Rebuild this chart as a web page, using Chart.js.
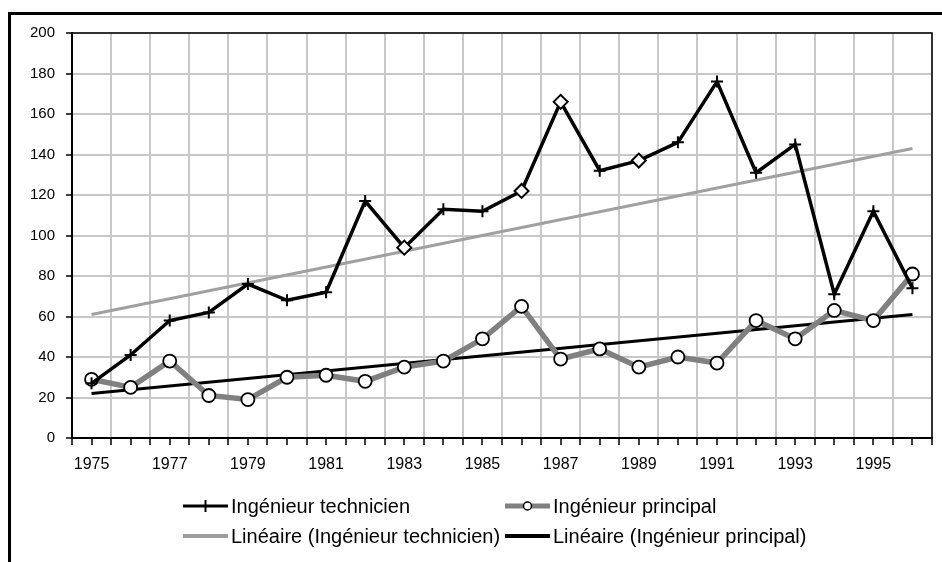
<!DOCTYPE html>
<html>
<head>
<meta charset="utf-8">
<script src="https://cdn.jsdelivr.net/npm/chart.js@4/dist/chart.umd.min.js"></script>
<style>
  html, body { margin: 0; padding: 0; background: #fff; overflow: hidden; }
  #frame { position: absolute; left: 8px; top: 12px; width: 1000px; height: 600px; border: 3px solid #000; }
  #chart { position: absolute; left: 0; top: 0; }
</style>
</head>
<body>
<div id="frame"></div>
<canvas id="chart" width="942" height="562"></canvas>
<script>
const years = [1975, 1976, 1977, 1978, 1979, 1980, 1981, 1982, 1983, 1984, 1985,
               1986, 1987, 1988, 1989, 1990, 1991, 1992, 1993, 1994, 1995, 1996];
const technicien = [27, 41, 58, 62, 76, 68, 72, 117, 94, 113, 112,
                    122, 166, 132, 137, 146, 176, 131, 145, 71, 112, 74];
const principal = [29, 25, 38, 21, 19, 30, 31, 28, 35, 38, 49,
                   65, 39, 44, 35, 40, 37, 58, 49, 63, 58, 81];
// trend lines, end points
const trendYears = [1975, 1996];
const trendTechnicien = [61, 143];
const trendPrincipal = [22, 61];
const yTicks = [0, 20, 40, 60, 80, 100, 120, 140, 160, 180, 200];

const diamondYears = [1983, 1986, 1987, 1989];
const FONT = '"Liberation Sans", Arial, sans-serif';

const pts = (xs, ys) => xs.map((x, i) => ({ x: x, y: ys[i] }));

// legend drawn by hand so the two columns line up like in Excel
const legendPlugin = {
  id: 'xlLegend',
  afterDraw(chart) {
    const c = chart.ctx;
    const items = [
      { text: 'Ingénieur technicien', x: 183, y: 506, color: '#000', w: 3, marker: 'cross' },
      { text: 'Ingénieur principal', x: 505, y: 506, color: '#808080', w: 5, marker: 'circle' },
      { text: 'Linéaire (Ingénieur technicien)', x: 183, y: 536, color: '#a0a0a0', w: 4 },
      { text: 'Linéaire (Ingénieur principal)', x: 505, y: 536, color: '#000', w: 4 }
    ];
    c.save();
    c.font = '20px ' + FONT;
    c.textBaseline = 'middle';
    c.fillStyle = '#000';
    items.forEach(it => {
      c.strokeStyle = it.color;
      c.lineWidth = it.w;
      c.beginPath();
      c.moveTo(it.x, it.y);
      c.lineTo(it.x + 45, it.y);
      c.stroke();
      const mx = it.x + 22.5;
      if (it.marker === 'cross') {
        c.lineWidth = 2;
        c.strokeStyle = '#000';
        c.beginPath();
        c.moveTo(mx, it.y - 6);
        c.lineTo(mx, it.y + 6);
        c.stroke();
      } else if (it.marker === 'circle') {
        c.beginPath();
        c.arc(mx, it.y, 4, 0, Math.PI * 2);
        c.fillStyle = '#fff';
        c.fill();
        c.lineWidth = 1.5;
        c.strokeStyle = '#000';
        c.stroke();
        c.fillStyle = '#000';
      }
      c.fillText(it.text, it.x + 48, it.y + 1);
    });
    c.restore();
  }
};

// top and right edges of the plot area
const framePlugin = {
  id: 'plotFrame',
  afterDatasetsDraw(chart) {
    const a = chart.chartArea;
    const c = chart.ctx;
    c.save();
    c.strokeStyle = '#000';
    c.lineWidth = 1.5;
    c.beginPath();
    c.moveTo(a.left, a.top);
    c.lineTo(a.right, a.top);
    c.lineTo(a.right, a.bottom);
    c.stroke();
    c.restore();
  }
};

new Chart(document.getElementById('chart').getContext('2d'), {
  type: 'line',
  data: {
    datasets: [
      {
        label: 'Ingénieur technicien',
        data: pts(years, technicien),
        borderColor: '#000',
        borderWidth: 3.5,
        pointStyle: years.map(y => diamondYears.includes(y) ? 'rectRot' : 'cross'),
        pointRadius: years.map(y => diamondYears.includes(y) ? 7 : 6),
        pointBorderWidth: 2,
        pointBorderColor: '#000',
        pointBackgroundColor: '#fff',
        tension: 0,
        order: 0
      },
      {
        label: 'Ingénieur principal',
        data: pts(years, principal),
        borderColor: '#808080',
        borderWidth: 5.5,
        pointStyle: 'circle',
        pointRadius: 6.5,
        pointBorderWidth: 1.8,
        pointBorderColor: '#000',
        pointBackgroundColor: '#fff',
        tension: 0,
        order: 1
      },
      {
        label: 'Linéaire (Ingénieur technicien)',
        data: pts(trendYears, trendTechnicien),
        borderColor: '#a0a0a0',
        borderWidth: 3,
        pointRadius: 0,
        order: 2
      },
      {
        label: 'Linéaire (Ingénieur principal)',
        data: pts(trendYears, trendPrincipal),
        borderColor: '#000',
        borderWidth: 3,
        pointRadius: 0,
        order: 3
      }
    ]
  },
  options: {
    responsive: false,
    animation: false,
    devicePixelRatio: 1,
    layout: { padding: { left: 0, top: 33, right: 7, bottom: 0 } },
    plugins: {
      legend: { display: false },
      tooltip: { enabled: false }
    },
    scales: {
      x: {
        type: 'linear',
        min: 1974.5,
        max: 1996.5,
        afterFit: s => { s.height = 124; },
        border: { color: '#000', width: 2 },
        grid: {
          color: ctx => (ctx.tick && Number.isInteger(ctx.tick.value)) ? 'rgba(0,0,0,0)' : '#c8c8c8',
          tickColor: '#000',
          lineWidth: 2,
          tickWidth: 1.5,
          tickLength: 7
        },
        ticks: {
          stepSize: 0.5,
          autoSkip: false,
          maxRotation: 0,
          padding: 10,
          color: '#000',
          font: { family: FONT, size: 16 },
          callback: v => (Number.isInteger(v) && v % 2 === 1) ? String(v) : ''
        }
      },
      y: {
        min: 0,
        max: 200,
        afterFit: s => { s.width = 72; },
        afterBuildTicks: s => { s.ticks = yTicks.map(v => ({ value: v })); },
        border: { color: '#000', width: 2 },
        grid: {
          color: '#c8c8c8',
          tickColor: '#000',
          lineWidth: 2,
          tickWidth: 1.5,
          tickLength: 6
        },
        ticks: {
          padding: 11,
          color: '#000',
          font: { family: FONT, size: 15 }
        }
      }
    }
  },
  plugins: [framePlugin, legendPlugin]
});
</script>
</body>
</html>
